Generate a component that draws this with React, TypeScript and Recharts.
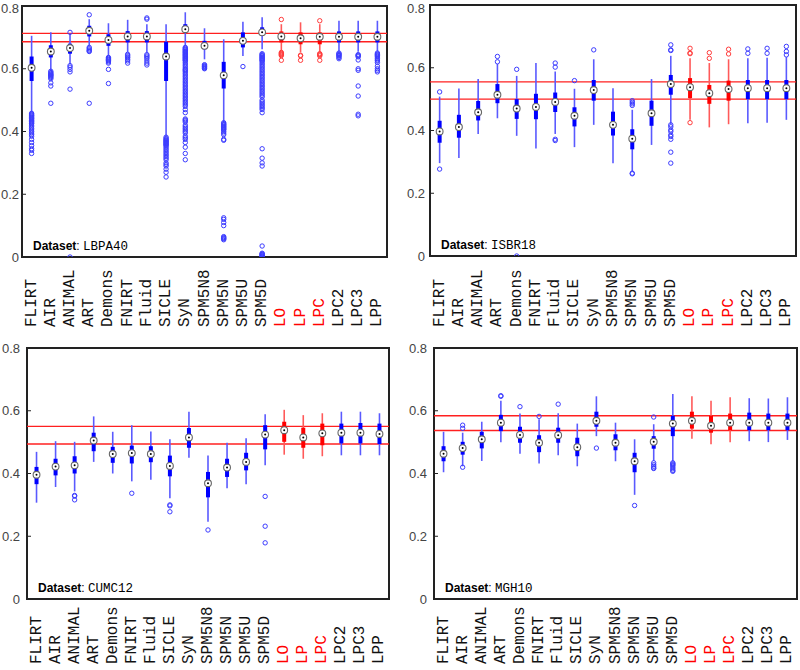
import React from 'react';
import {
  ComposedChart,
  Scatter,
  XAxis,
  YAxis,
  ErrorBar,
  ReferenceLine,
  ReferenceArea,
} from 'recharts';

// ---------------- DATA ----------------
const methods = [
  'FLIRT', 'AIR', 'ANIMAL', 'ART', 'Demons', 'FNIRT', 'Fluid', 'SICLE', 'SyN',
  'SPM5N8', 'SPM5N', 'SPM5U', 'SPM5D', 'LO', 'LP', 'LPC', 'LPC2', 'LPC3', 'LPP',
];
const highlighted = ['LO', 'LP', 'LPC'];
const yTicks = [0, 0.2, 0.4, 0.6, 0.8];

type Stat = [number, number, number, number, number]; // whiskerLow, q1, median, q3, whiskerHigh

// LBPA40
const lbpa40Stats: Stat[] = [
  [0.46, 0.561, 0.603, 0.639, 0.705],
  [0.593, 0.636, 0.655, 0.675, 0.716],
  [0.614, 0.648, 0.666, 0.68, 0.712],
  [0.673, 0.703, 0.721, 0.737, 0.758],
  [0.641, 0.673, 0.692, 0.71, 0.745],
  [0.652, 0.684, 0.703, 0.72, 0.756],
  [0.652, 0.684, 0.703, 0.72, 0.742],
  [0.385, 0.561, 0.639, 0.686, 0.742],
  [0.673, 0.716, 0.726, 0.742, 0.78],
  [0.63, 0.662, 0.673, 0.689, 0.729],
  [0.428, 0.537, 0.579, 0.622, 0.694],
  [0.641, 0.668, 0.689, 0.716, 0.75],
  [0.662, 0.707, 0.716, 0.732, 0.764],
  [0.657, 0.684, 0.703, 0.719, 0.742],
  [0.652, 0.678, 0.697, 0.716, 0.748],
  [0.654, 0.678, 0.702, 0.716, 0.742],
  [0.654, 0.684, 0.702, 0.719, 0.753],
  [0.654, 0.684, 0.702, 0.719, 0.753],
  [0.655, 0.684, 0.702, 0.719, 0.753],
];
const lbpa40Outliers: number[][] = [
  [0.458, 0.455, 0.452, 0.45, 0.447, 0.445, 0.442, 0.44, 0.437, 0.435, 0.432, 0.43, 0.427, 0.425, 0.42, 0.415, 0.41, 0.405, 0.4, 0.395, 0.39, 0.385, 0.375, 0.365, 0.355, 0.345, 0.34, 0.33],
  [0.592, 0.588, 0.585, 0.582, 0.58, 0.578, 0.575, 0.572, 0.568, 0.555, 0.545, 0.49],
  [0.716, 0.61, 0.605, 0.598, 0.59, 0.535, 0],
  [0.772, 0.668, 0.664, 0.66, 0.657, 0.655, 0.49],
  [0.636, 0.633, 0.63, 0.628, 0.626, 0.622, 0.618, 0.598, 0.553],
  [0.646, 0.642, 0.638, 0.635, 0.63, 0.625, 0.618],
  [0.762, 0.758, 0.645, 0.641, 0.637, 0.632, 0.625, 0.618, 0.612],
  [0.382, 0.378, 0.375, 0.372, 0.37, 0.367, 0.365, 0.362, 0.36, 0.357, 0.355, 0.35, 0.345, 0.34, 0.335, 0.33, 0.325, 0.32, 0.315, 0.31, 0.3, 0.295, 0.29, 0.28, 0.27, 0.255],
  [0.668, 0.665, 0.662, 0.66, 0.657, 0.655, 0.652, 0.65, 0.647, 0.645, 0.642, 0.64, 0.637, 0.635, 0.632, 0.63, 0.627, 0.625, 0.62, 0.615, 0.61, 0.605, 0.6, 0.597, 0.594, 0.59, 0.585, 0.58, 0.575, 0.57, 0.565, 0.56, 0.555, 0.55, 0.545, 0.54, 0.535, 0.53, 0.525, 0.52, 0.515, 0.51, 0.505, 0.5, 0.495, 0.49, 0.485, 0.48, 0.47, 0.46, 0.44, 0.437, 0.434, 0.43, 0.42, 0.415, 0.41, 0.405, 0.4, 0.395, 0.385, 0.38, 0.375, 0.365, 0.35, 0.33, 0.31],
  [0.613, 0.61, 0.608, 0.606, 0.604, 0.602, 0.6],
  [0.428, 0.425, 0.422, 0.42, 0.417, 0.415, 0.412, 0.41, 0.407, 0.405, 0.4, 0.395, 0.39, 0.375, 0.372, 0.125, 0.12, 0.11, 0.1, 0.065, 0.062, 0.06, 0.058, 0.055],
  [0.607],
  [0.648, 0.645, 0.642, 0.64, 0.637, 0.635, 0.632, 0.63, 0.627, 0.625, 0.62, 0.615, 0.61, 0.605, 0.6, 0.595, 0.59, 0.585, 0.58, 0.575, 0.57, 0.565, 0.56, 0.555, 0.55, 0.545, 0.54, 0.535, 0.53, 0.525, 0.52, 0.515, 0.51, 0.5, 0.495, 0.49, 0.485, 0.48, 0.475, 0.47, 0.46, 0.345, 0.315, 0.3, 0.29, 0.035, 0.012, 0.01, 0.008, 0.006, 0.004, 0.002, 0],
  [0.757, 0.652, 0.649, 0.647, 0.645, 0.642, 0.627],
  [0.643, 0.641, 0.627],
  [0.753, 0.648, 0.646, 0.644, 0.641, 0.627],
  [0.65, 0.647, 0.645, 0.642, 0.64, 0.636, 0.632],
  [0.645, 0.643, 0.641, 0.638, 0.628, 0.6, 0.595, 0.545, 0.513, 0.455, 0.45],
  [0.65, 0.647, 0.645, 0.642, 0.64, 0.637, 0.632, 0.628, 0.625, 0.62, 0.608, 0.6, 0.595, 0.59],
];
const lbpa40Ref = [0.686, 0.713];

// ISBR18
const isbr18Stats: Stat[] = [
  [0.296, 0.361, 0.397, 0.431, 0.508],
  [0.312, 0.377, 0.411, 0.45, 0.534],
  [0.389, 0.432, 0.458, 0.494, 0.564],
  [0.439, 0.487, 0.514, 0.548, 0.612],
  [0.383, 0.437, 0.47, 0.5, 0.574],
  [0.343, 0.436, 0.475, 0.517, 0.615],
  [0.389, 0.459, 0.491, 0.521, 0.588],
  [0.347, 0.413, 0.447, 0.474, 0.533],
  [0.418, 0.495, 0.529, 0.561, 0.627],
  [0.296, 0.384, 0.418, 0.46, 0.535],
  [0.269, 0.34, 0.374, 0.404, 0.466],
  [0.354, 0.415, 0.455, 0.495, 0.564],
  [0.421, 0.514, 0.548, 0.577, 0.638],
  [0.434, 0.503, 0.538, 0.567, 0.63],
  [0.41, 0.485, 0.519, 0.545, 0.615],
  [0.42, 0.495, 0.532, 0.559, 0.627],
  [0.423, 0.5, 0.535, 0.561, 0.63],
  [0.425, 0.5, 0.535, 0.561, 0.632],
  [0.434, 0.5, 0.535, 0.561, 0.634],
];
const isbr18Outliers: number[][] = [
  [0.523, 0.277],
  [],
  [],
  [0.636, 0.619],
  [0.595, 0],
  [],
  [0.615, 0.602, 0.372, 0.368],
  [0.559],
  [0.657],
  [],
  [0.495, 0.49, 0.485, 0.48, 0.264, 0.262],
  [],
  [0.673, 0.657, 0.655, 0.418, 0.412, 0.402, 0.397, 0.386, 0.381, 0.372, 0.331, 0.296],
  [0.662, 0.647, 0.645, 0.425],
  [0.648, 0.63],
  [0.659, 0.644],
  [0.66, 0.646],
  [0.662, 0.646],
  [0.668, 0.652, 0.641],
];
const isbr18Ref = [0.5, 0.555];

// CUMC12
const cumc12Stats: Stat[] = [
  [0.307, 0.366, 0.396, 0.421, 0.469],
  [0.357, 0.394, 0.422, 0.447, 0.503],
  [0.343, 0.4, 0.426, 0.455, 0.501],
  [0.437, 0.471, 0.505, 0.53, 0.582],
  [0.4, 0.434, 0.462, 0.485, 0.533],
  [0.375, 0.432, 0.465, 0.489, 0.554],
  [0.38, 0.436, 0.462, 0.487, 0.534],
  [0.321, 0.391, 0.424, 0.457, 0.509],
  [0.45, 0.482, 0.515, 0.545, 0.597],
  [0.246, 0.324, 0.369, 0.405, 0.457],
  [0.353, 0.389, 0.419, 0.447, 0.498],
  [0.366, 0.41, 0.437, 0.466, 0.512],
  [0.426, 0.477, 0.524, 0.554, 0.589],
  [0.46, 0.501, 0.538, 0.565, 0.603],
  [0.447, 0.482, 0.515, 0.546, 0.586],
  [0.455, 0.49, 0.528, 0.559, 0.592],
  [0.458, 0.496, 0.53, 0.559, 0.597],
  [0.458, 0.496, 0.53, 0.561, 0.597],
  [0.458, 0.494, 0.526, 0.559, 0.592],
];
const cumc12Outliers: number[][] = [
  [], [], [0.33, 0.328, 0.316], [], [], [0.337], [], [0.3, 0.297, 0.278], [],
  [0.22], [], [], [0.327, 0.232, 0.179], [], [], [], [], [], [],
];
const cumc12Ref = [0.494, 0.55];

// MGH10
const mgh10Stats: Stat[] = [
  [0.404, 0.439, 0.463, 0.487, 0.533],
  [0.423, 0.46, 0.481, 0.501, 0.53],
  [0.44, 0.48, 0.509, 0.533, 0.565],
  [0.5, 0.535, 0.562, 0.587, 0.632],
  [0.463, 0.498, 0.523, 0.549, 0.591],
  [0.432, 0.468, 0.498, 0.522, 0.573],
  [0.458, 0.498, 0.522, 0.546, 0.592],
  [0.423, 0.455, 0.484, 0.514, 0.559],
  [0.519, 0.549, 0.568, 0.597, 0.646],
  [0.439, 0.474, 0.498, 0.525, 0.562],
  [0.332, 0.404, 0.439, 0.466, 0.509],
  [0.44, 0.479, 0.501, 0.519, 0.557],
  [0.44, 0.519, 0.559, 0.584, 0.653],
  [0.511, 0.543, 0.568, 0.597, 0.646],
  [0.493, 0.53, 0.552, 0.584, 0.632],
  [0.5, 0.538, 0.562, 0.591, 0.643],
  [0.503, 0.538, 0.562, 0.594, 0.64],
  [0.5, 0.538, 0.562, 0.591, 0.639],
  [0.507, 0.538, 0.562, 0.591, 0.643],
];
const mgh10Outliers: number[][] = [
  [], [0.554, 0.544, 0.42], [], [0.648, 0.646], [0.613], [0.582], [0.621], [], [0.481],
  [], [0.298], [0.58, 0.434, 0.428, 0.423, 0.418, 0.416],
  [0.434, 0.431, 0.428, 0.425, 0.42, 0.415, 0.41, 0.407], [], [], [], [], [], [],
];
const mgh10Ref = [0.537, 0.584];

// ---------------- STYLE ----------------
const BLUE_BOX = '#0000ff';
const BLUE_WHISKER = '#5a5aff';
const BLUE_OUT = '#3c3cff';
const RED_BOX = '#ff0000';
const RED_WHISKER = '#ff5a5a';
const RED_OUT = '#ff3c3c';
const MONO = '"Liberation Mono", "DejaVu Sans Mono", monospace';
const SANS = '"Liberation Sans", Arial, sans-serif';

function buildBoxes(stats: Stat[], red: boolean) {
  return stats
    .map((s, i) => ({
      x: i,
      y: s[2],
      wErr: [s[2] - s[0], s[4] - s[2]],
      bErr: [s[2] - s[1], s[3] - s[2]],
      red: highlighted.includes(methods[i]),
    }))
    .filter((d) => d.red === red);
}

function buildOutliers(outs: number[][], red: boolean) {
  const pts: { x: number; y: number }[] = [];
  outs.forEach((arr, i) => {
    if (highlighted.includes(methods[i]) !== red) return;
    arr.forEach((v) => pts.push({ x: i, y: v }));
  });
  return pts;
}

const MedianMark = (props: any) => {
  const { cx, cy } = props;
  if (cx == null || cy == null) return <g />;
  return (
    <g>
      <circle cx={cx} cy={cy} r={3.4} fill="#ffffff" stroke="#666" strokeWidth={1.1} />
      <circle cx={cx} cy={cy} r={1} fill="#000" />
    </g>
  );
};

const makeOutlierMark = (color: string) => (props: any) => {
  const { cx, cy } = props;
  if (cx == null || cy == null) return <g />;
  return <circle cx={cx} cy={cy} r={2.2} fill="none" stroke={color} strokeWidth={1} />;
};
const BlueOutlier = makeOutlierMark(BLUE_OUT);
const RedOutlier = makeOutlierMark(RED_OUT);

const makeXTick = (offset: number) => (props: any) => {
  const { x, y, payload } = props;
  const name = methods[payload.value];
  if (!name) return <g />;
  const ty = y + offset;
  const color = highlighted.includes(name) ? '#ff0000' : '#111';
  return (
    <text
      x={x}
      y={ty}
      transform={`rotate(-90 ${x} ${ty})`}
      textAnchor="start"
      dominantBaseline="central"
      fontFamily={MONO}
      fontSize={16}
      fill={color}
    >
      {name}
    </text>
  );
};

interface PanelProps {
  left: number;
  top: number;
  width: number;
  height: number;
  marginTop: number;
  marginRight: number;
  yAxisWidth: number;
  yTickMargin: number;
  xAxisHeight: number;
  labelOffset: number;
  stats: Stat[];
  outliers: number[][];
  refs: number[];
  dataset: string;
}

function Panel(p: PanelProps) {
  const blueBoxes = buildBoxes(p.stats, false);
  const redBoxes = buildBoxes(p.stats, true);
  const blueOut = buildOutliers(p.outliers, false);
  const redOut = buildOutliers(p.outliers, true);
  const XTick = makeXTick(p.labelOffset);
  const plotLeft = p.yAxisWidth;
  const plotBottom = p.height - p.xAxisHeight;
  return (
    <div style={{ position: 'absolute', left: p.left, top: p.top, width: p.width, height: p.height }}>
      <ComposedChart
        width={p.width}
        height={p.height}
        margin={{ top: p.marginTop, right: p.marginRight, left: 0, bottom: 0 }}
      >
        <XAxis
          type="number"
          dataKey="x"
          domain={[-0.5, methods.length - 0.5]}
          ticks={methods.map((_, i) => i)}
          interval={0}
          allowDataOverflow
          height={p.xAxisHeight}
          tickSize={0}
          tickMargin={0}
          tickLine={false}
          axisLine={false}
          tick={<XTick />}
        />
        <YAxis
          type="number"
          dataKey="y"
          domain={[0, 0.8]}
          ticks={yTicks}
          allowDataOverflow
          width={p.yAxisWidth}
          tickSize={-4}
          tickMargin={p.yTickMargin}
          axisLine={false}
          tickLine={{ stroke: '#222', strokeWidth: 1 }}
          tickFormatter={(v: number) => (v === 0 ? '0' : v.toFixed(1))}
          tick={{ fill: '#444', fontSize: 13, fontFamily: SANS }}
        />
        <YAxis
          yAxisId="right"
          orientation="right"
          type="number"
          domain={[0, 0.8]}
          ticks={yTicks}
          allowDataOverflow
          width={0}
          tickSize={-4}
          axisLine={false}
          tickLine={{ stroke: '#222', strokeWidth: 1 }}
          tick={false}
        />
        {p.refs.map((r) => (
          <ReferenceLine key={r} y={r} stroke="#ff2020" strokeWidth={1.3} ifOverflow="extendDomain" />
        ))}
        <Scatter data={blueBoxes} shape={<MedianMark />} isAnimationActive={false}>
          <ErrorBar dataKey="wErr" direction="y" width={0} stroke={BLUE_WHISKER} strokeWidth={1.6} isAnimationActive={false} />
          <ErrorBar dataKey="bErr" direction="y" width={0} stroke={BLUE_BOX} strokeWidth={4} isAnimationActive={false} />
        </Scatter>
        <Scatter data={redBoxes} shape={<MedianMark />} isAnimationActive={false}>
          <ErrorBar dataKey="wErr" direction="y" width={0} stroke={RED_WHISKER} strokeWidth={1.6} isAnimationActive={false} />
          <ErrorBar dataKey="bErr" direction="y" width={0} stroke={RED_BOX} strokeWidth={4} isAnimationActive={false} />
        </Scatter>
        <Scatter data={blueOut} shape={<BlueOutlier />} isAnimationActive={false} />
        <Scatter data={redOut} shape={<RedOutlier />} isAnimationActive={false} />
        <ReferenceArea
          x1={-0.5}
          x2={methods.length - 0.5}
          y1={0}
          y2={0.8}
          fill="none"
          fillOpacity={0}
          stroke="#222"
          strokeWidth={2}
        />
      </ComposedChart>
      <svg
        width={p.width}
        height={p.height}
        style={{ position: 'absolute', left: 0, top: 0, pointerEvents: 'none' }}
      >
        <text x={plotLeft + 11} y={plotBottom - 7} fill="#000">
          <tspan fontFamily={SANS} fontWeight="bold" fontSize={12}>Dataset</tspan>
          <tspan fontFamily={SANS} fontSize={12}>: </tspan>
          <tspan fontFamily={MONO} fontSize={12.5}>{p.dataset}</tspan>
        </text>
      </svg>
    </div>
  );
}

export default function App() {
  return (
    <div style={{ position: 'absolute', left: 0, top: 0, width: 800, height: 670, background: '#fff' }}>
      <Panel
        left={0} top={0} width={390} height={335}
        marginTop={6} marginRight={3} yAxisWidth={22} yTickMargin={7} xAxisHeight={78} labelOffset={70}
        stats={lbpa40Stats} outliers={lbpa40Outliers} refs={lbpa40Ref} dataset="LBPA40"
      />
      <Panel
        left={400} top={0} width={400} height={334}
        marginTop={5} marginRight={4} yAxisWidth={30} yTickMargin={9} xAxisHeight={78} labelOffset={71}
        stats={isbr18Stats} outliers={isbr18Outliers} refs={isbr18Ref} dataset="ISBR18"
      />
      <Panel
        left={0} top={340} width={390} height={330}
        marginTop={8} marginRight={1} yAxisWidth={27} yTickMargin={11} xAxisHeight={71} labelOffset={65}
        stats={cumc12Stats} outliers={cumc12Outliers} refs={cumc12Ref} dataset="CUMC12"
      />
      <Panel
        left={400} top={340} width={400} height={330}
        marginTop={8} marginRight={3} yAxisWidth={34} yTickMargin={11} xAxisHeight={71} labelOffset={65}
        stats={mgh10Stats} outliers={mgh10Outliers} refs={mgh10Ref} dataset="MGH10"
      />
    </div>
  );
}
